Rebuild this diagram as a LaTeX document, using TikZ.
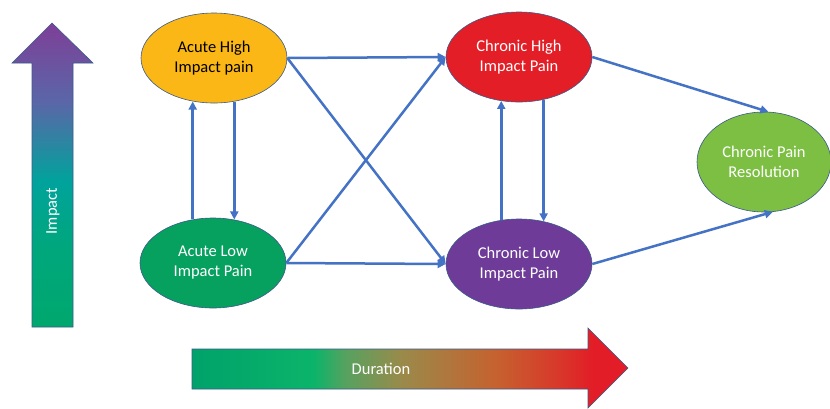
\documentclass[tikz,border=0pt]{standalone}
\usepackage{fontspec}
\setmainfont{Carlito}
\usetikzlibrary{shapes.geometric,arrows.meta,calc}
\definecolor{cOrange}{HTML}{FBB715}
\definecolor{cGreen}{HTML}{06A05F}
\definecolor{cRed}{HTML}{E31E26}
\definecolor{cPurple}{HTML}{6F3B98}
\definecolor{cLight}{HTML}{7CBF43}
\definecolor{cBlue}{HTML}{4472C4}
\definecolor{cEdge}{HTML}{3A5A8A}
\definecolor{vPurple}{HTML}{7E3F98}
\definecolor{vMid}{HTML}{5A66A8}
\definecolor{vTeal}{HTML}{00A39C}
\definecolor{vGreen}{HTML}{00A86E}
\definecolor{hG1}{HTML}{00A26A}
\definecolor{hG2}{HTML}{0BB46A}
\definecolor{hG3}{HTML}{55A260}
\definecolor{hOl}{HTML}{9A8A4A}
\definecolor{hOr}{HTML}{C6612F}
\definecolor{hR1}{HTML}{D8382A}
\definecolor{hR2}{HTML}{E21D27}
\pgfdeclareverticalshading{impactshade}{100bp}{color(0bp)=(vGreen); color(25bp)=(vGreen); color(38bp)=(vGreen!70!vTeal); color(49bp)=(vTeal); color(62bp)=(vMid); color(75bp)=(vPurple); color(100bp)=(vPurple)}
\pgfdeclarehorizontalshading{durationshade}{100bp}{color(0bp)=(hG1); color(25bp)=(hG1); color(39bp)=(hG2); color(42.5bp)=(hG3); color(49bp)=(hOl); color(60bp)=(hOr); color(67bp)=(hR1); color(71bp)=(hR2); color(100bp)=(hR2)}
\tikzset{
  state/.style={ellipse, draw=cEdge, line width=0.6pt, minimum width=146pt, minimum height=90pt, inner sep=0pt, align=center, font=\fontsize{16.5}{20}\selectfont},
  link/.style={draw=cBlue, line width=2.5pt, -{Triangle[length=8pt,width=8pt]}},
  bigarrow/.style={draw=cEdge, line width=0.6pt},
  lbl/.style={text=white, font=\fontsize{16.5}{20}\selectfont}
}
\begin{document}
\begin{tikzpicture}[x=1pt,y=-1pt]
\useasboundingbox[fill=white] (0,0) rectangle (830,408);
% Impact arrow
\shade[shading=impactshade, bigarrow] (32,327) -- (32,63) -- (12,63) -- (52,23) -- (93,63) -- (73,63) -- (73,327) -- cycle;
\node[lbl, rotate=90] (imp) at (53,211) {Impact};
% Duration arrow
\shade[shading=durationshade, bigarrow] (192,349) -- (588,349) -- (588,328) -- (628,368) -- (588,408) -- (588,389) -- (192,389) -- cycle;
\node[lbl] (dur) at (381,369) {Duration};
% States
\node[state, fill=cOrange, text=black] (ah) at (214,58) {Acute High\\Impact pain};
\node[state, fill=cGreen, text=white] (al) at (213,263) {Acute Low\\Impact Pain};
\node[state, fill=cRed, text=white] (ch) at (519,57) {Chronic High\\Impact Pain};
\node[state, fill=cPurple, text=white] (cl) at (519,264) {Chronic Low\\Impact Pain};
\node[state, fill=cLight, text=white, minimum width=134pt, minimum height=100pt] (res) at (764,162) {Chronic Pain\\Resolution};
% Links
\draw[link] (ah.-65) -- (ah.-65 |- al.65);
\draw[link] (al.115) -- (al.115 |- ah.-115);
\draw[link] (ch.-60) -- (ch.-60 |- cl.60);
\draw[link] (cl.112) -- (cl.112 |- ch.-112);
\draw[link] (ah.east) -- (ch.west);
\draw[link] (ah.east) -- (cl.west);
\draw[link] (al.east) -- (ch.west);
\draw[link] (al.east) -- (cl.west);
\draw[link] (ch.east) -- (res.85);
\draw[link] (cl.east) -- (res.-80);
\end{tikzpicture}
\end{document}
